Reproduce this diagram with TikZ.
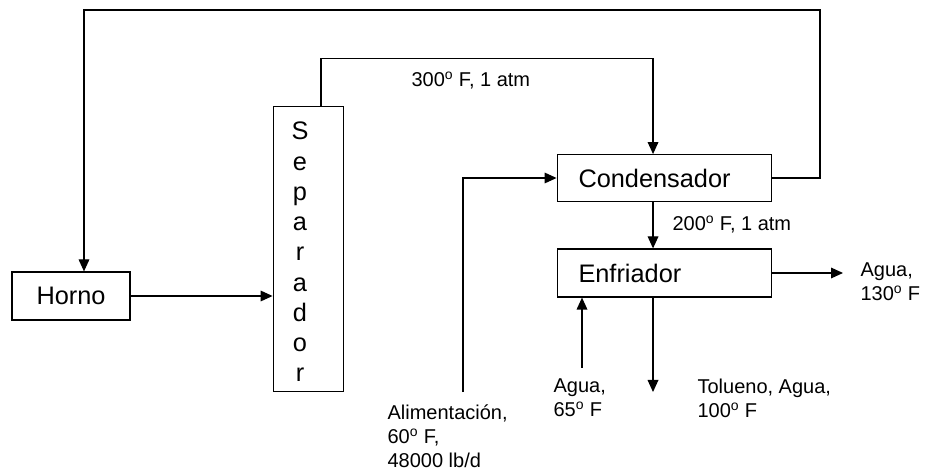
\documentclass[tikz,border=0pt]{standalone}
\usepackage{fontspec}
\setmainfont{Liberation Sans}
\usetikzlibrary{arrows.meta}
\newcommand{\grado}{\textsuperscript{o}}

\begin{document}
\begin{tikzpicture}[x=0.75pt, y=-0.75pt, line width=0.9pt,
    >={Triangle[length=9pt,width=8pt]},
    unidad/.style={draw, rectangle, font=\fontsize{19}{22}\selectfont},
    equipo/.style={unidad, minimum height=35pt, text width=129pt, inner xsep=16pt, align=left},
    etiqueta/.style={font=\fontsize{15}{18}\selectfont, align=left, inner sep=0pt, anchor=north west}]
\useasboundingbox (0,0) rectangle (925,470);

% equipos
\node[unidad, minimum width=88.5pt, minimum height=36pt] (horno) at (71,296) {Horno};
\node[unidad, minimum width=53pt, minimum height=214pt] (sep) at (308.5,249) {};
\foreach \l [count=\i] in {S,e,p,a,r,a,d,o,r}
    \node[anchor=base, font=\fontsize{19}{22}\selectfont] (sep-\i) at (300,{140+30.25*(\i-1)}) {\l};
\node[equipo] (cond) at (664.5,178) {Condensador};
\node[equipo, minimum height=36pt] (enfr) at (664.5,273) {Enfriador};

% entradas y salidas
\coordinate (alim) at (463,392);
\coordinate (aguae) at (582,368);
\coordinate (prod) at (653,392);
\coordinate (aguas) at (843,273);

% corrientes
\draw[->] (cond.east) -| (820,10) -| ([xshift=9.75pt]horno.north);
\draw[->] (horno.east) -- (horno.east -| sep.west);
\draw[->] ([xshift=9.4pt]sep.north) -- ++(0,-47) -| ([xshift=-8.6pt]cond.north);
\draw[->] (alim) |- (cond.west);
\draw[->] ([xshift=-8.6pt]cond.south) -- ([xshift=-8.6pt]enfr.north);
\draw[->] (enfr.east) -- (aguas);
\draw[->] (aguae) -- (aguae |- enfr.south);
\draw[->] (prod |- enfr.south) -- (prod);

% etiquetas
\node[etiqueta] (t300) at (411,71) {300\grado\ F, 1 atm};
\node[etiqueta] (t200) at (672,215) {200\grado\ F, 1 atm};
\node[etiqueta] (tagua130) at (860,262) {Agua,\\130\grado\ F};
\node[etiqueta] (tagua65) at (553,378) {Agua,\\65\grado\ F};
\node[etiqueta] (ttol) at (697,378) {Tolueno, Agua,\\100\grado\ F};
\node[etiqueta] (talim) at (387,404) {Alimentación,\\60\grado\ F,\\48000 lb/d};
\end{tikzpicture}
\end{document}
